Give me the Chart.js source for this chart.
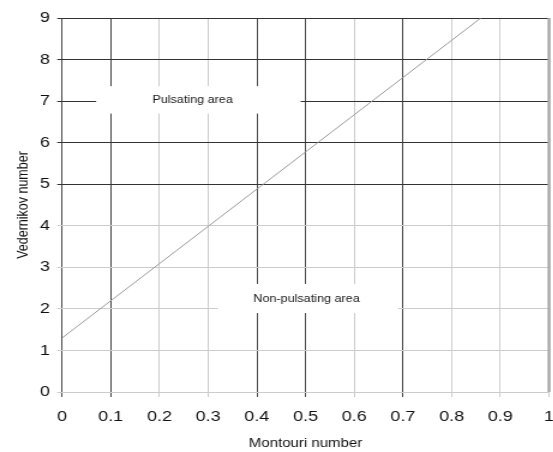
<!DOCTYPE html>
<html lang="en">
<head>
    <meta charset="UTF-8">
    <title>Vedernikov vs Montouri</title>
    <style>
        body { margin: 0; background: #fff; overflow: hidden; }
        /* the source picture is stretched sideways, so stretch the canvas the same way */
        .wrap { width: 461px; height: 452px; transform: scaleX(1.2); transform-origin: 0 0; }
        #chart { display: block; }
    </style>
</head>
<body>
    <div class="wrap">
        <canvas id="chart" width="461" height="452"></canvas>
    </div>

    <script src="https://cdn.jsdelivr.net/npm/chart.js"></script>
    <script>
        // boundary line (Montouri, Vedernikov)
        const montouri = [0, 0.86];
        const vedernikov = [1.3, 9];

        // grid lines drawn dark, the rest light
        const darkX = [0, 0.1, 0.4, 0.5, 0.7];
        const darkY = [5, 6, 7, 8, 9];

        // area labels: text, centre, and box extent in data units
        const areaLabels = ['Pulsating area', 'Non-pulsating area'];
        const labelX = [0.268, 0.502];
        const labelY = [7.03, 2.23];
        const boxX0 = [0.07, 0.32];
        const boxX1 = [0.49, 0.69];
        const boxY0 = [6.7, 1.9];
        const boxY1 = [7.36, 2.6];

        const near = (v, list) => list.some(d => Math.abs(d - v) < 1e-6);

        const areaPlugin = {
            id: 'areas',
            beforeDatasetsDraw(chart) {
                const { ctx, scales: { x, y } } = chart;
                ctx.save();
                areaLabels.forEach((txt, i) => {
                    const l = x.getPixelForValue(boxX0[i]);
                    const r = x.getPixelForValue(boxX1[i]);
                    const t = y.getPixelForValue(boxY1[i]);
                    const b = y.getPixelForValue(boxY0[i]);
                    ctx.fillStyle = '#fff';
                    ctx.fillRect(l, t, r - l, b - t);
                    ctx.fillStyle = '#1a1a1a';
                    ctx.font = '10.5px "Liberation Sans", Arial, sans-serif';
                    ctx.textAlign = 'center';
                    ctx.textBaseline = 'middle';
                    ctx.fillText(txt, x.getPixelForValue(labelX[i]), y.getPixelForValue(labelY[i]));
                });
                // right edge of the plot is a thicker grey bar
                const xr = x.getPixelForValue(1);
                ctx.strokeStyle = '#aaa';
                ctx.lineWidth = 2.5;
                ctx.beginPath();
                ctx.moveTo(xr, y.getPixelForValue(9));
                ctx.lineTo(xr, y.getPixelForValue(0));
                ctx.stroke();
                ctx.restore();
            }
        };

        const tickFont = { family: '"Liberation Sans", Arial, sans-serif', size: 15 };
        const titleFont = { family: '"Liberation Sans", Arial, sans-serif', size: 12.5 };

        new Chart(document.getElementById('chart'), {
            type: 'scatter',
            data: {
                datasets: [{
                    data: montouri.map((m, i) => ({ x: m, y: vedernikov[i] })),
                    showLine: true,
                    borderColor: '#999',
                    borderWidth: 1,
                    pointRadius: 0
                }]
            },
            options: {
                responsive: false,
                animation: false,
                layout: { padding: { top: 18, right: 0, left: 0, bottom: 0 } },
                plugins: { legend: { display: false }, tooltip: { enabled: false } },
                scales: {
                    x: {
                        type: 'linear',
                        min: 0,
                        max: 1,
                        afterFit: s => { s.height = 60; s.paddingLeft = 0; s.paddingRight = 3.5; },
                        ticks: {
                            stepSize: 0.1,
                            color: '#111',
                            font: tickFont,
                            padding: 11,
                            maxRotation: 0,
                            callback: v => Number(v.toFixed(1)).toString()
                        },
                        grid: {
                            color: c => near(c.tick.value, darkX) ? '#444' : '#ccc',
                            tickLength: 5,
                            lineWidth: 1
                        },
                        border: { display: false },
                        title: { display: true, text: 'Montouri number', color: '#111', font: titleFont, padding: { top: 0, bottom: 1 } }
                    },
                    y: {
                        type: 'linear',
                        min: 0,
                        max: 9,
                        afterFit: s => { s.width = 51.7; s.paddingTop = 0; s.paddingBottom = 0; },
                        ticks: { stepSize: 1, color: '#111', font: tickFont, padding: 6 },
                        grid: {
                            color: c => near(c.tick.value, darkY) ? '#333' : '#ccc',
                            tickLength: 4,
                            lineWidth: 1
                        },
                        border: { display: false },
                        title: { display: true, text: 'Vedernikov number', color: '#111', font: titleFont, padding: { top: 12.5, bottom: 0 } }
                    }
                }
            },
            plugins: [areaPlugin]
        });
    </script>
</body>
</html>
